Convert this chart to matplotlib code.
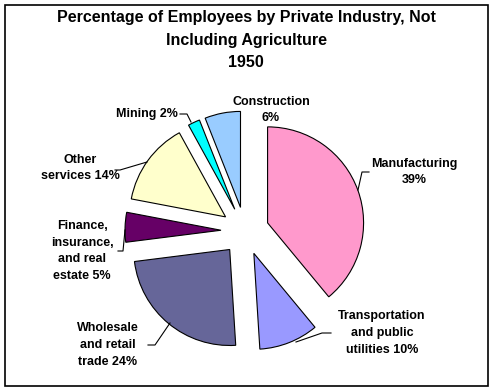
import matplotlib.pyplot as plt
from matplotlib.patches import Rectangle

# Data (clockwise from 12 o'clock)
industries = ["Manufacturing", "Transportation and public utilities", "Wholesale and retail trade",
              "Finance, insurance, and real estate", "Other services", "Mining", "Construction"]
shares = [39, 10, 24, 5, 14, 2, 6]
colors = ["#FF99CC", "#9999FF", "#666699", "#660066", "#FFFFCC", "#00FFFF", "#99CCFF"]
label_texts = ["Manufacturing\n39%", "Transportation\nand public\nutilities 10%",
               "Wholesale\nand retail\ntrade 24%", "Finance,\ninsurance,\nand real\nestate 5%",
               "Other\nservices 14%", "Mining 2%", "Construction\n6%"]

W, H = 492, 389
def Y(y):
    return H - y

fig = plt.figure(figsize=(W / 100, H / 100), dpi=100)
ax = fig.add_axes([0, 0, 1, 1])

ax.pie(shares, colors=colors, startangle=90, counterclock=False,
       radius=96, center=(245, Y(231)), explode=[24] * len(shares),
       wedgeprops=dict(edgecolor="black", linewidth=0.8))

ax.set_xlim(0, W)
ax.set_ylim(0, H)
ax.set_aspect("equal", adjustable="box")
ax.axis("off")

# border
ax.add_patch(Rectangle((5, Y(386)), 483, 381, fill=False, edgecolor="black", linewidth=1.2))

font = dict(family="Liberation Sans", fontweight="bold")
ax.text(246, Y(40), "Percentage of Employees by Private Industry, Not\nIncluding Agriculture\n1950",
        ha="center", va="center", fontsize=11.5, linespacing=1.65, **font)

# label positions (text anchor) and leader lines
label_pos = [(414, 172, "center"), (382, 333, "center"), (108, 345, "center"),
             (82, 251, "center"), (80, 168, "center"), (178, 114, "right"), (271, 110, "center")]
leaders = [
    [(369, 172), (362, 172), (358, 190)],
    [(331, 333), (322, 333), (296, 342)],
    [(148, 345), (155, 345), (170, 323)],
    [(118, 251), (123, 251), (125, 230)],
    [(115, 170), (120, 170), (147, 162)],
    [(180, 114), (187, 114), (191, 122)],
    None,
]

for txt, (x, y, ha), line in zip(label_texts, label_pos, leaders):
    ax.text(x, Y(y), txt, ha=ha, va="center", fontsize=9, linespacing=1.52, multialignment="center", **font)
    if line:
        ax.plot([p[0] for p in line], [Y(p[1]) for p in line], color="black", linewidth=0.8)

fig.savefig("out.png", dpi=100)
